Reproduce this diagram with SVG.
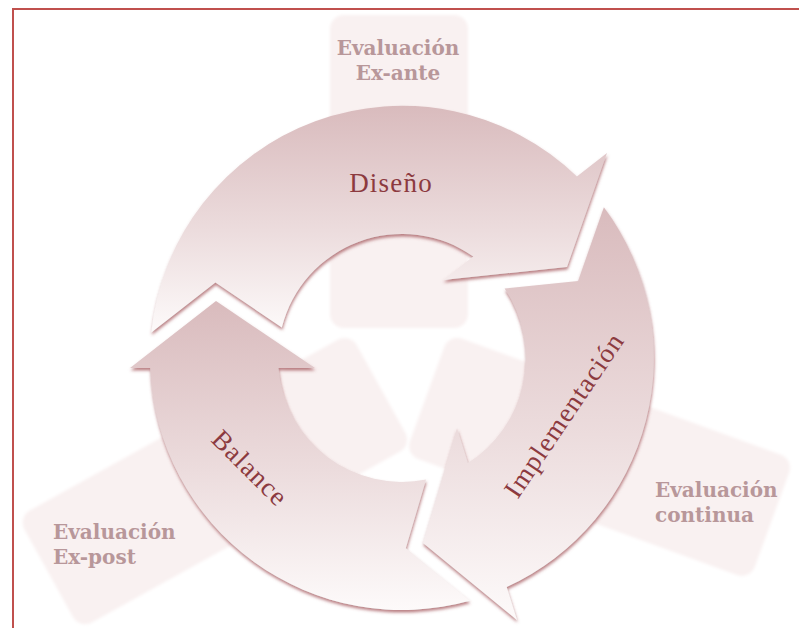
<svg xmlns="http://www.w3.org/2000/svg" width="799" height="628" viewBox="0 0 799 628">
<defs>
<style>
.band{fill:#f9f1f1;filter:url(#soft);}
.arrow{filter:url(#sh);}
.lbl{font-family:"Liberation Serif","Times New Roman",serif;font-size:27px;fill:#8c3a3f;letter-spacing:1.2px;}
.ev{font-family:"DejaVu Serif",serif;font-weight:bold;font-size:20px;fill:#b8979a;}
</style>
<linearGradient id="g" x1="0" y1="0" x2="0" y2="1">
<stop offset="0" stop-color="#d9bbbd"/>
<stop offset="0.55" stop-color="#ecdcdd"/>
<stop offset="1" stop-color="#fdfafa"/>
</linearGradient>
<filter id="sh" x="-10%" y="-10%" width="120%" height="125%">
<feDropShadow dx="0.5" dy="2.5" stdDeviation="1.4" flood-color="#9c4a50" flood-opacity="0.7"/>
</filter>
<filter id="soft" x="-5%" y="-5%" width="110%" height="110%">
<feGaussianBlur stdDeviation="1.5"/>
</filter>
</defs>
<rect x="0" y="0" width="799" height="628" fill="#ffffff"/>
<rect x="13" y="9" width="800" height="640" fill="none" stroke="#c0504d" stroke-width="2"/>

<g id="eval-exante">
<rect class="band" x="330" y="15" width="138" height="313" rx="14"/>
<text class="ev" x="398" y="55" text-anchor="middle">Evaluación</text>
<text class="ev" x="398" y="80" text-anchor="middle">Ex-ante</text>
</g>
<g id="eval-continua">
<rect class="band" x="0" y="0" width="367" height="128" rx="14" transform="translate(449,334) rotate(20)"/>
<text class="ev" x="655" y="497">Evaluación</text>
<text class="ev" x="655" y="522">continua</text>
</g>
<g id="eval-expost">
<rect class="band" x="0" y="-128" width="380" height="128" rx="14" transform="translate(350,333) rotate(151)"/>
<text class="ev" x="53" y="539">Evaluación</text>
<text class="ev" x="53" y="564">Ex-post</text>
</g>

<g id="connectors"></g>

<g id="diseno">
<path class="arrow" fill="url(#g)" d="M151.3 332.5 A252 252 0 0 1 576.9 176.4 L607 153 L567 267 L443 280 L473.3 256.5 A124 124 0 0 0 281.8 327.5 L215.4 282.5 Z"/>
<text class="lbl" x="391" y="192" text-anchor="middle">Diseño</text>
</g>
<g id="implementacion">
<path class="arrow" fill="url(#g)" d="M603.9 207.3 A252 252 0 0 1 506.7 587 L517 620 L423 543 L457 428 L467.9 462.9 A124 124 0 0 0 504.6 288.6 L578.1 280.9 Z"/>
<text class="lbl" transform="translate(564,415) rotate(-56)" text-anchor="middle" dy="9">Implementación</text>
</g>
<g id="balance">
<path class="arrow" fill="url(#g)" d="M469.8 600.7 A252 252 0 0 1 150.2 368 L130 368 L216 301 L315 368 L278.4 368 A124 124 0 0 0 426.1 479.6 L405.8 548.3 Z"/>
<text class="lbl" transform="translate(250,468) rotate(45)" text-anchor="middle" dy="9">Balance</text>
</g>
</svg>
